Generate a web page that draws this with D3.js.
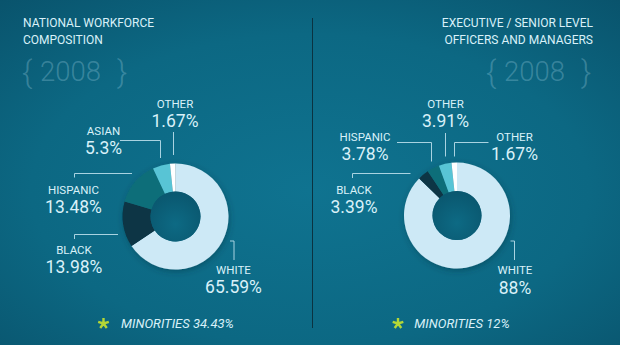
<!DOCTYPE html>
<html>
<head>
<meta charset="utf-8">
<script src="https://cdn.jsdelivr.net/npm/d3@7"></script>
<style>
  html, body { margin: 0; padding: 0; background: #0b5f79; }
  svg { display: block; }
</style>
</head>
<body>
<svg id="chart" width="620" height="345"></svg>
<script>
// Workforce composition, 2008 (percent)
const year = "2008";
const categoriesNational = ["WHITE", "BLACK", "HISPANIC", "ASIAN", "OTHER"];
const valuesNational = [65.59, 13.98, 13.48, 5.3, 1.67];
const minoritiesNational = 34.43;

const categoriesExecutive = ["WHITE", "BLACK", "HISPANIC", "OTHER", "OTHER"];
const valuesExecutive = [88, 3.39, 3.78, 3.91, 1.67];
const minoritiesExecutive = 12;

const titleNational = ["NATIONAL WORKFORCE", "COMPOSITION"];
const titleExecutive = ["EXECUTIVE / SENIOR LEVEL", "OFFICERS AND MANAGERS"];

// slice colours, in slice order
const sliceColorsNational = ["#cde9f6", "#0c3444", "#0e6e79", "#58c4d5", "#ffffff"];
const sliceColorsExecutive = ["#cde9f6", "#0c3444", "#0e6e79", "#58c4d5", "#ffffff"];

const W = 620, H = 345;
const svg = d3.select("#chart");
const defs = svg.append("defs");

// background with soft vignette
const bg = defs.append("radialGradient").attr("id", "bg")
  .attr("cx", "50%").attr("cy", "55%").attr("r", "75%");
bg.append("stop").attr("offset", "0%").attr("stop-color", "#0f7390");
bg.append("stop").attr("offset", "60%").attr("stop-color", "#0c6883");
bg.append("stop").attr("offset", "100%").attr("stop-color", "#09536c");
svg.append("rect").attr("width", W).attr("height", H).attr("fill", "url(#bg)");

// donut hole shading
const hole = defs.append("radialGradient").attr("id", "hole")
  .attr("cx", "50%").attr("cy", "65%").attr("r", "60%");
hole.append("stop").attr("offset", "0%").attr("stop-color", "#0d6a84");
hole.append("stop").attr("offset", "100%").attr("stop-color", "#0a5870");

const shadow = defs.append("filter").attr("id", "shadow")
  .attr("x", "-30%").attr("y", "-30%").attr("width", "160%").attr("height", "160%");
shadow.append("feDropShadow").attr("dx", 1).attr("dy", 2).attr("stdDeviation", 3)
  .attr("flood-color", "#04303f").attr("flood-opacity", 0.45);

const textColor = "#d9f1f9";
const lineColor = "#a9d3e1";
const fontMain = "Roboto, 'Open Sans', sans-serif";

// divider
svg.append("line").attr("x1", 312.5).attr("x2", 312.5).attr("y1", 18).attr("y2", 328)
  .attr("stroke", "#0b3341").attr("stroke-width", 1);

function drawTitle(lines, x, anchor) {
  const t = svg.append("g");
  lines.forEach((s, i) => {
    t.append("text").attr("x", x).attr("y", 27 + i * 17)
      .attr("text-anchor", anchor)
      .attr("font-family", fontMain).attr("font-weight", 400)
      .attr("font-size", 12).attr("fill", textColor).text(s);
  });
}

function drawYear(x0) {
  const g = svg.append("g").attr("fill", "#a7d7e8").attr("fill-opacity", 0.3)
    .attr("font-family", fontMain).attr("font-weight", 300);
  g.append("text").attr("x", x0).attr("y", 83).attr("font-size", 31).text("{");
  g.append("text").attr("x", x0 + 18).attr("y", 80.5).attr("font-size", 27.5)
    .text(year);
  g.append("text").attr("x", x0 + 95).attr("y", 83).attr("font-size", 31).text("}");
}

function drawDonut(cx, cy, rOuter, rInner, values, colors) {
  const pie = d3.pie().sort(null).value(d => d)(values);
  const arc = d3.arc().innerRadius(rInner).outerRadius(rOuter);
  const g = svg.append("g").attr("transform", `translate(${cx},${cy})`);
  const ring = g.append("g").attr("filter", "url(#shadow)");
  ring.selectAll("path").data(pie).join("path")
    .attr("d", arc)
    .attr("fill", (d, i) => colors[i]);
  g.append("circle").attr("r", rInner).attr("fill", "url(#hole)");
}

function drawLabel(name, value, x, yName, leader) {
  svg.append("path").attr("d", leader).attr("fill", "none")
    .attr("stroke", lineColor).attr("stroke-width", 1);
  svg.append("text").attr("x", x).attr("y", yName).attr("text-anchor", "middle")
    .attr("font-family", fontMain).attr("font-weight", 400).attr("font-size", 11.5)
    .attr("fill", textColor).text(name);
  svg.append("text").attr("x", x).attr("y", yName + 19.3).attr("text-anchor", "middle")
    .attr("font-family", fontMain).attr("font-weight", 400).attr("font-size", 17.5)
    .attr("fill", textColor).text(value + "%");
}

function drawStar(cx, cy) {
  const r = 5.6;
  let d = "";
  for (let k = 0; k < 5; k++) {
    const a = -Math.PI / 2 + k * 2 * Math.PI / 5;
    d += `M${cx},${cy}L${cx + r * Math.cos(a)},${cy + r * Math.sin(a)}`;
  }
  svg.append("path").attr("d", d).attr("stroke", "#b3d636")
    .attr("stroke-width", 2.4).attr("stroke-linecap", "butt");
}

function drawMinorities(xStar, xText, value) {
  drawStar(xStar, 323.5);
  svg.append("text").attr("x", xText).attr("y", 327.7)
    .attr("font-family", fontMain).attr("font-style", "italic")
    .attr("font-size", 13).attr("fill", textColor)
    .text("MINORITIES " + value + "%");
}

// ---- national workforce ----
drawTitle(titleNational, 23, "start");
drawYear(22);
drawDonut(175.5, 216.5, 53, 25, valuesNational, sliceColorsNational);
const layoutNational = [
  { x: 233.5, y: 274, leader: "M230,241H234V260" },
  { x: 74, y: 254, leader: "M74.5,239V234.5H118" },
  { x: 73.5, y: 194, leader: "M74.5,177.5V173.5H132" },
  { x: 103.5, y: 135, leader: "M120,140.5H160.5V158" },
  { x: 175, y: 107.7, leader: "M173.5,132V155" }
];
categoriesNational.forEach((c, i) => {
  const L = layoutNational[i];
  drawLabel(c, valuesNational[i], L.x, L.y, L.leader);
});
drawMinorities(103.5, 121, minoritiesNational);

// ---- executive / senior level ----
drawTitle(titleExecutive, 593, "end");
drawYear(486);
drawDonut(457, 215.5, 53, 24.5, valuesExecutive, sliceColorsExecutive);
const layoutExecutive = [
  { x: 515, y: 274.3, leader: "M510.5,241H514.5V260" },
  { x: 354, y: 194, leader: "M352.5,178V173.5H410.5" },
  { x: 365, y: 140.7, leader: "M397,142.5H431.5V161.5" },
  { x: 445.5, y: 107.7, leader: "M445.5,133V156.5" },
  { x: 514.5, y: 140.7, leader: "M488.5,142.5H454.5V156.5" }
];
categoriesExecutive.forEach((c, i) => {
  const L = layoutExecutive[i];
  drawLabel(c, valuesExecutive[i], L.x, L.y, L.leader);
});
drawMinorities(398, 414.3, minoritiesExecutive);
</script>
</body>
</html>
